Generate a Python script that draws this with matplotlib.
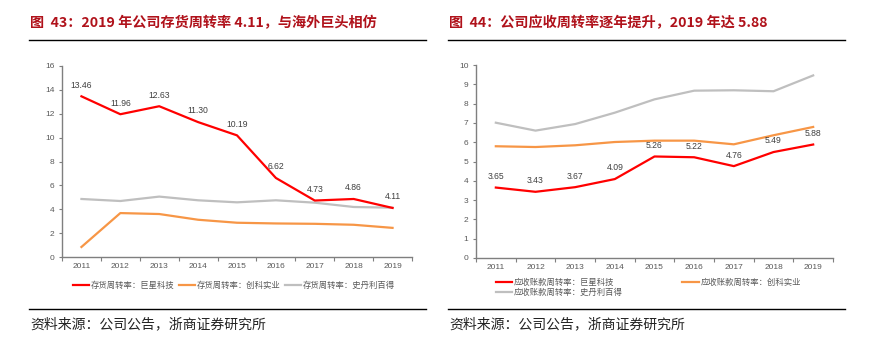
import matplotlib
matplotlib.use("Agg")
import matplotlib.pyplot as plt
from matplotlib.lines import Line2D
import numpy as np

plt.rcParams['font.family'] = ['Noto Sans CJK SC', 'DejaVu Sans']

years = ['2011', '2012', '2013', '2014', '2015', '2016', '2017', '2018', '2019']

# Figure 43: inventory turnover
inv_jx = [13.46, 11.96, 12.63, 11.30, 10.19, 6.62, 4.73, 4.86, 4.11]
inv_ck = [0.84, 3.68, 3.60, 3.12, 2.87, 2.81, 2.78, 2.70, 2.44]
inv_sd = [4.86, 4.69, 5.06, 4.75, 4.58, 4.75, 4.55, 4.19, 4.13]
inv_labels = ['存货周转率：巨星科技', '存货周转率：创科实业', '存货周转率：史丹利百得']

# Figure 44: receivables turnover
ar_jx = [3.65, 3.43, 3.67, 4.09, 5.26, 5.22, 4.76, 5.49, 5.88]
ar_ck = [5.79, 5.75, 5.84, 6.01, 6.08, 6.08, 5.89, 6.36, 6.79]
ar_sd = [7.01, 6.60, 6.94, 7.53, 8.22, 8.67, 8.69, 8.64, 9.46]
ar_labels = ['应收账款周转率：巨星科技', '应收账款周转率：创科实业', '应收账款周转率：史丹利百得']

title_l = '图  43：2019 年公司存货周转率 4.11，与海外巨头相仿'
title_r = '图  44：公司应收周转率逐年提升，2019 年达 5.88'
source = '资料来源：公司公告，浙商证券研究所'

RED = '#FF0000'
ORANGE = '#F79646'
GRAY = '#BFBFBF'
TITLE_C = '#B0121B'
TICK_C = '#595959'
AX_C = '#7F7F7F'
NUMFONT = ['Liberation Sans', 'DejaVu Sans']

W, H = 890, 354
fig = plt.figure(figsize=(W / 100, H / 100), dpi=100)

def fx(px):
    return px / W

def fy(py):
    return 1 - py / H

def setup(ax, ymax, ystep):
    x = np.arange(len(years))
    ax.set_xlim(-0.5, len(years) - 0.5)
    ax.set_ylim(0, ymax)
    ax.set_yticks(np.arange(0, ymax + 0.01, ystep))
    ax.set_xticks(x)
    ax.set_xticklabels(years)
    ax.set_xticks(np.arange(-0.5, len(years), 1), minor=True)
    ax.tick_params(axis='x', which='major', length=0, labelsize=6, labelcolor=TICK_C, pad=4)
    ax.tick_params(axis='x', which='minor', length=3, width=0.8, color=AX_C, direction='out')
    ax.tick_params(axis='y', which='major', length=2.5, width=0.8, color=AX_C, labelsize=6,
                   labelcolor=TICK_C, direction='out', pad=3)
    for lab in ax.get_xticklabels() + ax.get_yticklabels():
        lab.set_family(NUMFONT)
    for s in ['top', 'right']:
        ax.spines[s].set_visible(False)
    for s in ['left', 'bottom']:
        ax.spines[s].set_color(AX_C)
        ax.spines[s].set_linewidth(1.0)
    return x

# Left chart
axl = fig.add_axes([fx(62), fy(257), fx(412) - fx(62), fy(66) - fy(257)])
x = setup(axl, 16, 2)
axl.plot(x, inv_jx, color=RED, lw=1.6, zorder=3)
axl.plot(x, inv_ck, color=ORANGE, lw=1.6, zorder=2)
axl.plot(x, inv_sd, color=GRAY, lw=1.6, zorder=1)
for xi, v in zip(x, inv_jx):
    axl.annotate(f'{v:.2f}', (xi, v), xytext=(0, 8), textcoords='offset points',
                 ha='center', va='center', fontsize=6.2, color='#404040', family=NUMFONT)

# Right chart
axr = fig.add_axes([fx(476), fy(258), fx(833) - fx(476), fy(65) - fy(258)])
x = setup(axr, 10, 1)
axr.plot(x, ar_jx, color=RED, lw=1.6, zorder=3)
axr.plot(x, ar_ck, color=ORANGE, lw=1.6, zorder=2)
axr.plot(x, ar_sd, color=GRAY, lw=1.6, zorder=1)
for xi, v in zip(x, ar_jx):
    axr.annotate(f'{v:.2f}', (xi, v), xytext=(0, 8), textcoords='offset points',
                 ha='center', va='center', fontsize=6.2, color='#404040', family=NUMFONT)

# Legends
def mk(c):
    return Line2D([], [], color=c, lw=1.6)

fig.legend([mk(RED), mk(ORANGE), mk(GRAY)], inv_labels, loc='center',
           bbox_to_anchor=(fx(234), fy(285)),
           ncol=3, frameon=False, fontsize=6, labelcolor='#595959', handlelength=1.9,
           handletextpad=0.2, columnspacing=0.6)
fig.legend([mk(RED), mk(GRAY), mk(ORANGE)], [ar_labels[0], ar_labels[2], ar_labels[1]],
           loc='upper left', bbox_to_anchor=(fx(488), fy(270)),
           ncol=2, frameon=False, fontsize=6, labelcolor='#595959', handlelength=2.0,
           handletextpad=0.2, columnspacing=7.1, labelspacing=0.15)

# Titles, rules, sources
fig.text(fx(30), fy(23), title_l, fontsize=10.2, fontweight='bold', color=TITLE_C, va='center', ha='left')
fig.text(fx(449), fy(23), title_r, fontsize=10.2, fontweight='bold', color=TITLE_C, va='center', ha='left')
for (a, b) in [(29, 426), (448, 845)]:
    fig.add_artist(Line2D([fx(a), fx(b)], [fy(40), fy(40)], color='black', lw=1.0))
    fig.add_artist(Line2D([fx(a), fx(b)], [fy(309), fy(309)], color='black', lw=1.0))
fig.text(fx(30), fy(324), source, fontsize=10, color='#222222', va='center', ha='left')
fig.text(fx(449), fy(324), source, fontsize=10, color='#222222', va='center', ha='left')

fig.savefig('out.png', dpi=100)
